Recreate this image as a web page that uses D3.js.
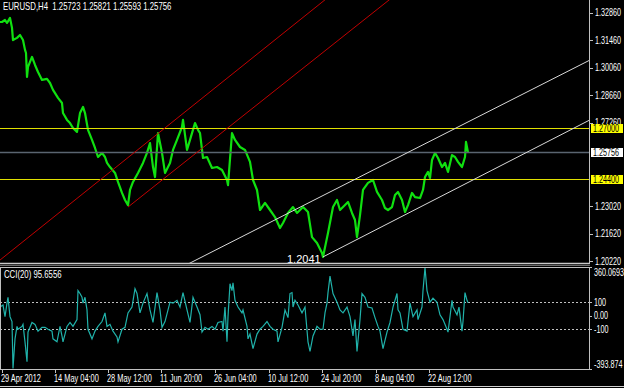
<!DOCTYPE html>
<html>
<head>
<meta charset="utf-8">
<script src="https://cdn.jsdelivr.net/npm/d3@7"></script>
<style>
  html, body { margin: 0; padding: 0; background: #000; }
  svg { display: block; }
  text { font-family: "Liberation Sans", Arial, sans-serif; font-size: 10px; fill: #ffffff; }
</style>
</head>
<body>
<svg id="chart" width="624" height="388"></svg>
<script>

//*************************************************//
// Chart data (bar index, 1 bar per pixel column)
//*************************************************//

var priceBars = [0, 2, 5, 7, 10, 12, 13, 17, 20, 23, 25, 26, 27, 28, 32, 35, 38, 42, 47, 50,
    53, 58, 62, 63, 67, 70, 73, 77, 80, 83, 85, 88, 92, 95, 98, 102, 105, 107, 110, 115,
    118, 122, 125, 128, 130, 133, 138, 143, 147, 150, 153, 155, 158, 162, 165, 170, 173, 177, 182, 183,
    187, 192, 195, 198, 200, 203, 207, 212, 217, 222, 227, 228, 232, 235, 240, 245, 250, 253, 257, 260,
    265, 270, 275, 280, 283, 288, 293, 297, 303, 308, 312, 317, 322, 323, 328, 333, 337, 340, 343, 348,
    352, 355, 357, 360, 363, 368, 373, 377, 382, 385, 388, 392, 395, 398, 402, 405, 408, 412, 415, 420,
    423, 425, 428, 430, 432, 435, 438, 442, 445, 448, 452, 455, 458, 462, 465, 466, 468];

var priceCloses = [1.3240, 1.3240, 1.3250, 1.3235, 1.3261, 1.3210, 1.3148, 1.3159, 1.3174, 1.3148, 1.3098, 1.3082, 1.2960, 1.3011, 1.3062, 1.3021, 1.2985, 1.2945, 1.2950, 1.2929,
    1.2894, 1.2853, 1.2827, 1.2776, 1.2741, 1.2725, 1.2700, 1.2680, 1.2776, 1.2807, 1.2776, 1.2690, 1.2639, 1.2598, 1.2552, 1.2573, 1.2552, 1.2522, 1.2501, 1.2471,
    1.2425, 1.2369, 1.2333, 1.2307, 1.2384, 1.2425, 1.2471, 1.2522, 1.2573, 1.2623, 1.2501, 1.2450, 1.2674, 1.2573, 1.2471, 1.2522, 1.2588, 1.2639, 1.2705, 1.2741,
    1.2588, 1.2674, 1.2725, 1.2690, 1.2674, 1.2547, 1.2552, 1.2496, 1.2501, 1.2486, 1.2435, 1.2409, 1.2674, 1.2639, 1.2603, 1.2588, 1.2527, 1.2435, 1.2384, 1.2282,
    1.2318, 1.2282, 1.2246, 1.2190, 1.2216, 1.2267, 1.2297, 1.2267, 1.2297, 1.2272, 1.2144, 1.2114, 1.2063, 1.2043, 1.2165, 1.2297, 1.2333, 1.2282, 1.2297, 1.2323,
    1.2267, 1.2231, 1.2144, 1.2256, 1.2384, 1.2420, 1.2435, 1.2374, 1.2333, 1.2292, 1.2282, 1.2297, 1.2358, 1.2374, 1.2333, 1.2272, 1.2307, 1.2369, 1.2348, 1.2343,
    1.2384, 1.2450, 1.2476, 1.2445, 1.2537, 1.2573, 1.2547, 1.2501, 1.2522, 1.2476, 1.2562, 1.2552, 1.2527, 1.2501, 1.2552, 1.2629, 1.25756];

var cciBars = [0, 3, 5, 7, 8, 10, 12, 13, 15, 17, 18, 22, 23, 25, 27, 28, 32, 35, 38, 42,
    45, 48, 52, 53, 57, 60, 62, 63, 67, 70, 73, 77, 78, 80, 82, 83, 85, 87, 88, 92,
    95, 98, 102, 105, 107, 110, 113, 117, 118, 122, 125, 128, 132, 135, 137, 140, 143, 147, 150, 153,
    157, 160, 162, 165, 170, 173, 177, 180, 183, 187, 190, 193, 197, 200, 202, 205, 208, 212, 215, 218,
    222, 223, 225, 227, 228, 230, 232, 233, 235, 238, 242, 243, 247, 248, 250, 253, 257, 260, 263, 267,
    270, 273, 277, 278, 282, 285, 288, 290, 292, 293, 295, 298, 302, 305, 308, 310, 313, 317, 320, 323,
    325, 327, 328, 330, 333, 337, 340, 343, 347, 350, 353, 355, 357, 360, 362, 365, 368, 372, 375, 378,
    380, 383, 387, 390, 393, 397, 398, 400, 403, 407, 410, 413, 417, 418, 422, 423, 425, 427, 430, 433,
    437, 440, 443, 447, 448, 450, 452, 453, 457, 459, 462, 463, 465, 467, 468];

var cciValues = [64, 79, -7, 93, 136, -7, -43, -390, -171, -79, -100, -79, -64, -193, -340, -121, -50, -64, -114, -86,
    -86, -100, -114, -171, -193, -79, -150, -193, -79, -50, -79, -29, 186, 164, 136, 93, 136, 43, -100, -171,
    -114, -79, -43, 21, -79, -64, -114, -157, -193, -100, -86, 21, 64, 200, 164, 21, 93, 164, 43, -50,
    171, 43, -86, -43, 100, 93, 114, 64, 171, 43, -50, 136, 64, 7, -121, -86, -100, -79, -100, -50,
    -43, -114, 64, -193, -7, 236, 186, 243, 114, 64, 21, 43, -79, -171, -136, -243, -136, -100, -79, -43,
    -79, -100, -114, -193, -86, 43, -14, 164, 171, 64, 114, 79, 21, 64, -193, -264, -150, -79, -100, -100,
    21, 93, 171, 293, 164, 100, 43, 21, 64, -7, -150, -29, -264, -29, 164, 136, 64, 57, -14, -79,
    -114, -243, -121, -50, 64, 164, 43, 21, -100, -114, 93, -7, 43, -29, 64, 186, 355, 186, 100, 129,
    100, 7, -29, -100, -121, -7, 114, 64, 7, 64, -114, -43, 171, 114, 95.66];

// Price axis labels
var priceTicks = ['1.32860', '1.31460', '1.30060', '1.28660', '1.27260', '1.23020', '1.21620', '1.20220'];

// Time axis labels and the bar they belong to
var timeLabels = ['29 Apr 2012', '14 May 04:00', '28 May 12:00', '11 Jun 20:00', '26 Jun 04:00',
    '10 Jul 12:00', '24 Jul 20:00', '8 Aug 04:00', '22 Aug 12:00'];
var timeBars = [2, 55, 108, 161, 215, 269, 322, 376, 429];

// CCI axis labels
var cciTicks = [360.0693, 100, 0, -100, -393.874];
var cciTickText = ['360.0693', '100', '0.00', '-100', '-393.874'];
var cciLevels = [100, -100];

// Horizontal lines
var hLevels = [1.27000, 1.24400];
var bidPrice = 1.25756;

// Trend channels: two anchor points [bar, price] each
var redUpper = [[0, 1.2027], [200, 1.2843]];
var redLower = [[128, 1.2297], [200, 1.2588]];
var whiteUpper = [[192, 1.2017], [588, 1.3041]];
var whiteLower = [[323, 1.2043], [588, 1.2736]];

var lowLabel = {bar: 287, price: 1.2041, text: '1.2041'};
var headerText = 'EURUSD,H4  1.25723 1.25821 1.25593 1.25756';
var cciText = 'CCI(20) 95.6556';


//*************************************************//
// Layout and scales
//*************************************************//

var svg = d3.select('#chart');

var paneRight = 589;
var mainPane = {top: 0, bottom: 263};
var cciPane = {top: 267, bottom: 369};

var x = d3.scaleLinear().domain([0, 589]).range([0, paneRight]);
var yPrice = d3.scaleLinear().domain([1.2012, 1.3352]).range([mainPane.bottom, mainPane.top]);
var yCci = d3.scaleLinear().domain([-393.874, 360.0693]).range([cciPane.bottom, cciPane.top]);

// Place a text squashed horizontally like the terminal font
var squashed = function(parent, tx, ty, k, str) {
    return parent.append('text')
        .attr('transform', 'translate(' + tx + ',' + ty + ') scale(' + k + ',1)')
        .attr('xml:space', 'preserve')
        .text(str);
};

svg.append('rect')
    .attr('width', 624).attr('height', 388)
    .attr('fill', '#000');

// Clip paths for the two panes
var defs = svg.append('defs');
defs.append('clipPath').attr('id', 'clip-main')
    .append('rect')
    .attr('x', 0).attr('y', mainPane.top)
    .attr('width', paneRight).attr('height', mainPane.bottom - mainPane.top);
defs.append('clipPath').attr('id', 'clip-cci')
    .append('rect')
    .attr('x', 0).attr('y', cciPane.top)
    .attr('width', paneRight).attr('height', cciPane.bottom - cciPane.top);


/*****************************/
// Main price pane
/*****************************/

var main = svg.append('g').attr('clip-path', 'url(#clip-main)');

var priceLine = d3.line()
    .x(function(d, i) { return x(priceBars[i]); })
    .y(function(d) { return yPrice(d); });

main.append('path')
    .datum(priceCloses)
    .attr('d', priceLine)
    .attr('fill', 'none')
    .attr('stroke', '#10e010')
    .attr('stroke-width', 2.2)
    .attr('stroke-linejoin', 'round');

// Bid line
main.append('line')
    .attr('x1', 0).attr('x2', paneRight)
    .attr('y1', Math.round(yPrice(bidPrice)) + 0.5)
    .attr('y2', Math.round(yPrice(bidPrice)) + 0.5)
    .attr('stroke', '#5a6470')
    .attr('stroke-width', 1.5);

// Yellow levels
main.selectAll('.level')
    .data(hLevels)
    .enter().append('line')
    .attr('class', 'level')
    .attr('x1', 0).attr('x2', paneRight)
    .attr('y1', function(d) { return Math.round(yPrice(d)) + 0.5; })
    .attr('y2', function(d) { return Math.round(yPrice(d)) + 0.5; })
    .attr('stroke', '#e0e000')
    .attr('stroke-width', 1);

// Channels: extend each line from a start bar to far right
var drawRay = function(pts, color, startBar) {
    var slope = (pts[1][1] - pts[0][1]) / (pts[1][0] - pts[0][0]);
    var endBar = 800;
    main.append('line')
        .attr('x1', x(startBar))
        .attr('y1', yPrice(pts[0][1] + slope * (startBar - pts[0][0])))
        .attr('x2', x(endBar))
        .attr('y2', yPrice(pts[0][1] + slope * (endBar - pts[0][0])))
        .attr('stroke', color)
        .attr('stroke-width', 1);
};

drawRay(redUpper, '#c00000', -20);
drawRay(redLower, '#c00000', redLower[0][0]);
drawRay(whiteUpper, '#d8d8d8', 100);
drawRay(whiteLower, '#d8d8d8', whiteLower[0][0]);

// Low price text object
main.append('text')
    .attr('x', x(lowLabel.bar))
    .attr('y', 263)
    .style('font-size', '11px')
    .text(lowLabel.text);

// Header
squashed(svg, 3, 10, 0.78, headerText);


/*****************************/
// Price axis
/*****************************/

svg.append('line')
    .attr('x1', paneRight + 0.5).attr('x2', paneRight + 0.5)
    .attr('y1', 0).attr('y2', mainPane.bottom)
    .attr('stroke', '#c0c0c0');

var priceAxis = svg.append('g');

priceAxis.selectAll('.ptick')
    .data(priceTicks)
    .enter().append('line')
    .attr('x1', paneRight + 1).attr('x2', paneRight + 4)
    .attr('y1', function(d) { return Math.round(yPrice(+d)) + 0.5; })
    .attr('y2', function(d) { return Math.round(yPrice(+d)) + 0.5; })
    .attr('stroke', '#c0c0c0');

priceTicks.forEach(function(d) {
    squashed(priceAxis, 595, yPrice(+d) + 3.5, 0.72, d);
});

// Price tags on the axis
var drawTag = function(price, label, bg) {
    var yy = Math.round(yPrice(price));
    svg.append('rect')
        .attr('x', 591).attr('y', yy - 4)
        .attr('width', 32).attr('height', 9)
        .attr('fill', bg);
    squashed(svg, 593, yy + 3.5, 0.72, label)
        .style('fill', '#000');
};

drawTag(hLevels[0], '1.27000', '#ffff00');
drawTag(bidPrice, '1.25756', '#ffffff');
drawTag(hLevels[1], '1.24400', '#ffff00');


/*****************************/
// Pane separator
/*****************************/

svg.append('line')
    .attr('x1', 0).attr('x2', 590)
    .attr('y1', 263.5).attr('y2', 263.5)
    .attr('stroke', '#c8c8c8').attr('stroke-width', 1.5);
svg.append('line')
    .attr('x1', 0).attr('x2', 590)
    .attr('y1', 265.5).attr('y2', 265.5)
    .attr('stroke', '#6a6a6a').attr('stroke-width', 1);


/*****************************/
// CCI pane
/*****************************/

var cci = svg.append('g').attr('clip-path', 'url(#clip-cci)');

cci.selectAll('.cci-level')
    .data(cciLevels)
    .enter().append('line')
    .attr('x1', 0).attr('x2', paneRight)
    .attr('y1', function(d) { return Math.round(yCci(d)) + 0.5; })
    .attr('y2', function(d) { return Math.round(yCci(d)) + 0.5; })
    .attr('stroke', '#c0c0c0')
    .attr('stroke-dasharray', '2,2');

var cciLine = d3.line()
    .x(function(d, i) { return x(cciBars[i]); })
    .y(function(d) { return yCci(d); });

cci.append('path')
    .datum(cciValues)
    .attr('d', cciLine)
    .attr('fill', 'none')
    .attr('stroke', '#20b2aa')
    .attr('stroke-width', 1.2);

// Pane frame
svg.append('rect')
    .attr('x', 0.5).attr('y', cciPane.top + 0.5)
    .attr('width', paneRight).attr('height', cciPane.bottom - cciPane.top)
    .attr('fill', 'none')
    .attr('stroke', '#c0c0c0');

squashed(svg, 4, 278, 0.78, cciText);

// CCI axis
var cciAxis = svg.append('g');

cciAxis.selectAll('.ctick')
    .data(cciTicks)
    .enter().append('line')
    .attr('x1', paneRight + 1).attr('x2', paneRight + 3)
    .attr('y1', function(d) { return Math.round(yCci(d)) + 0.5; })
    .attr('y2', function(d) { return Math.round(yCci(d)) + 0.5; })
    .attr('stroke', '#c0c0c0');

cciTicks.forEach(function(d, i) {
    var ty = yCci(d) + 3.5;
    if (i == 0) ty = yCci(d) + 9;
    if (i == cciTicks.length - 1) ty = yCci(d) - 1;
    squashed(cciAxis, 594, ty, 0.72, cciTickText[i]);
});


/*****************************/
// Time axis
/*****************************/

var timeAxis = svg.append('g');

timeAxis.selectAll('.ttick')
    .data(timeBars)
    .enter().append('line')
    .attr('x1', function(d) { return Math.round(x(d)) + 0.5; })
    .attr('x2', function(d) { return Math.round(x(d)) + 0.5; })
    .attr('y1', cciPane.bottom).attr('y2', cciPane.bottom + 4)
    .attr('stroke', '#c0c0c0');

timeLabels.forEach(function(d, i) {
    squashed(timeAxis, x(timeBars[i]) - 1, 382, 0.74, d);
});

// Bottom strip
svg.append('line')
    .attr('x1', 0).attr('x2', 624)
    .attr('y1', 386.5).attr('y2', 386.5)
    .attr('stroke', '#d0d0d0');

</script>
</body>
</html>
